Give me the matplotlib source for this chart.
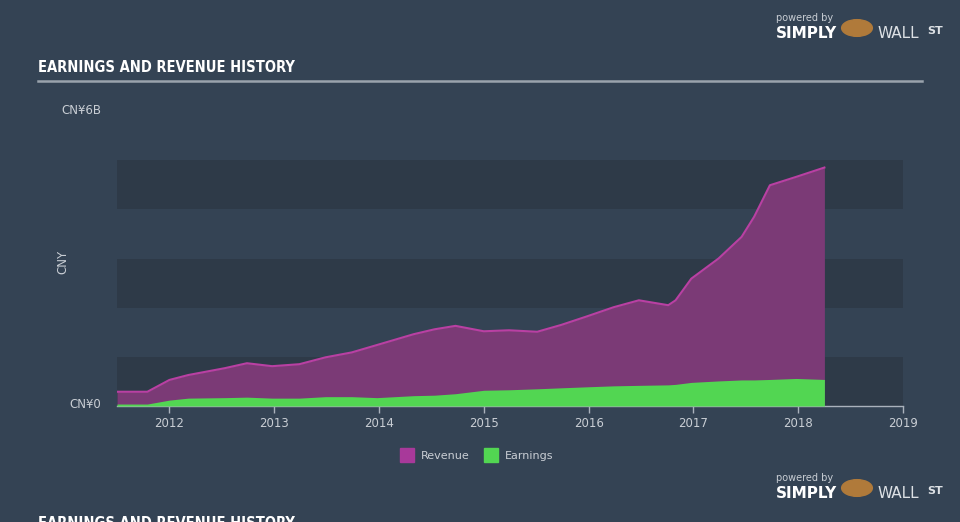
import matplotlib.pyplot as plt
from matplotlib.patches import Rectangle

# values (billions CNY)
years = [2011.5, 2011.79, 2012.0, 2012.18, 2012.53, 2012.74, 2012.98, 2013.24,
         2013.49, 2013.74, 2013.98, 2014.33, 2014.53, 2014.73, 2015.0, 2015.24,
         2015.51, 2015.74, 2015.98, 2016.24, 2016.48, 2016.76, 2016.83, 2016.98,
         2017.24, 2017.46, 2017.58, 2017.73, 2017.98, 2018.25]
revenue = [0.29, 0.29, 0.53, 0.63, 0.77, 0.87, 0.81, 0.85,
           0.99, 1.09, 1.24, 1.46, 1.56, 1.63, 1.52, 1.54,
           1.51, 1.65, 1.82, 2.01, 2.15, 2.05, 2.15, 2.59,
           3.00, 3.44, 3.85, 4.49, 4.66, 4.85]
earnings = [0.04, 0.04, 0.12, 0.16, 0.17, 0.18, 0.16, 0.16,
            0.19, 0.19, 0.17, 0.21, 0.22, 0.25, 0.32, 0.33,
            0.35, 0.37, 0.39, 0.41, 0.42, 0.43, 0.44, 0.48,
            0.51, 0.53, 0.53, 0.54, 0.56, 0.54]
xticks = [2012, 2013, 2014, 2015, 2016, 2017, 2018, 2019]

bg = '#344354'
band = '#2e3a48'
txt = '#c9ced4'
rev_fill = '#7b3a76'
rev_line = '#b940a3'
earn_col = '#52d652'

W, H = 960, 522
fig = plt.figure(figsize=(W / 100, H / 100), dpi=100, facecolor=bg)

def fx(px):
    return px / W

def fy(py):
    return 1 - py / H

ax = fig.add_axes([fx(117), fy(406), fx(903) - fx(117), fy(111) - fy(406)])
ax.set_facecolor(bg)
ax.set_xlim(2011.5, 2019.0)
ax.set_ylim(0, 6)

# darker horizontal bands
for lo in [0, 2, 4]:
    ax.axhspan(lo, lo + 1, color=band, zorder=0, lw=0)

ax.fill_between(years, 0, revenue, color=rev_fill, lw=0, zorder=1)
ax.plot(years, revenue, color=rev_line, lw=1.5, zorder=2)
ax.fill_between(years, 0, earnings, color=earn_col, lw=0, zorder=3)

for s in ['top', 'right', 'left']:
    ax.spines[s].set_visible(False)
ax.spines['bottom'].set_color('#aab2bc')
ax.spines['bottom'].set_linewidth(1)
ax.set_yticks([])
ax.set_xticks(xticks)
ax.set_xticklabels([str(y) for y in xticks], color=txt, fontsize=8.5)
ax.tick_params(axis='x', colors='#aab2bc', length=5, width=1, pad=3, labelcolor=txt)

# y labels
fig.text(fx(101), fy(110), 'CN¥6B', color=txt, fontsize=8.5, ha='right', va='center')
fig.text(fx(101), fy(404), 'CN¥0', color=txt, fontsize=8.5, ha='right', va='center')
fig.text(fx(63), fy(262), 'CNY', color=txt, fontsize=8.5, rotation=90, ha='center', va='center')

# title and rule
title_kw = dict(color='white', fontsize=10.5, fontweight='bold', fontstretch='condensed',
                family='DejaVu Sans', ha='left', va='center')
fig.text(fx(38), fy(68), 'EARNINGS AND REVENUE HISTORY', **title_kw)
fig.add_artist(plt.Line2D([fx(38), fx(922)], [fy(81), fy(81)], color='#9aa3ad', lw=1.8))

# legend
for x0, col, lab in [(400, '#a8399a', 'Revenue'), (484, earn_col, 'Earnings')]:
    fig.add_artist(Rectangle((fx(x0), fy(462)), fx(14), fy(448) - fy(462), color=col))
    fig.text(fx(x0 + 21), fy(456), lab, color=txt, fontsize=8, ha='left', va='center')

# logos
def logo(ytop):
    fig.text(fx(776), fy(ytop), 'powered by', color='#c9ced4', fontsize=7, ha='left', va='center')
    fig.text(fx(776), fy(ytop + 15), 'SIMPLY', color='white', fontsize=11, fontweight='bold',
             ha='left', va='center')
    fig.text(fx(877), fy(ytop + 15), 'WALL', color='#dde1e5', fontsize=11, ha='left', va='center')
    fig.text(fx(927), fy(ytop + 13), 'ST', color='#dde1e5', fontsize=8, fontweight='bold',
             ha='left', va='center')
    fig.add_artist(plt.Circle((fx(857), fy(ytop + 10)), 0.016, color='#b07a3a',
                              transform=fig.transFigure))

logo(18)
logo(478)

# next section header, cut by the bottom edge as in the reference
fig.text(fx(38), fy(524), 'EARNINGS AND REVENUE HISTORY', **title_kw)

fig.savefig('out.png', dpi=100, facecolor=bg)
